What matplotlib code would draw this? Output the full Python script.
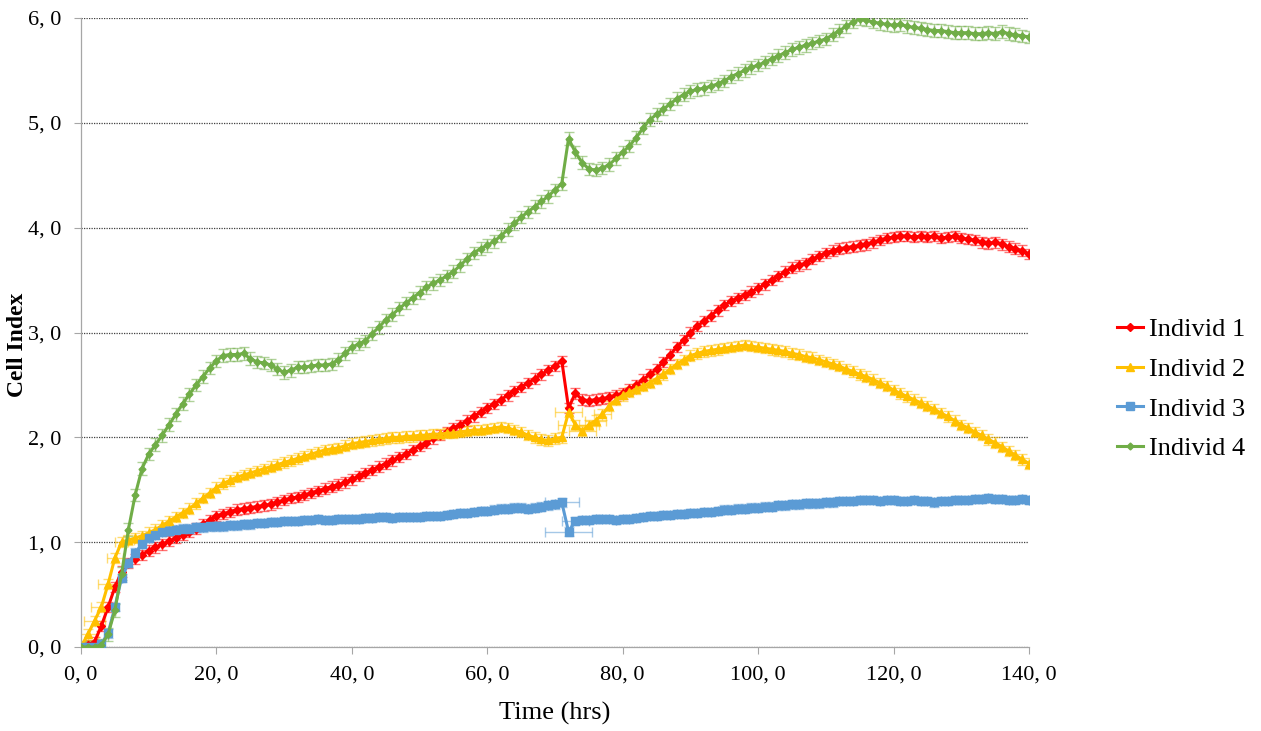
import matplotlib
matplotlib.use("Agg")
import matplotlib.pyplot as plt
import numpy as np

# ---------------- data (hourly readings, t = 0..140 h) ----------------
hours = list(range(0, 141))

individ1 = [0, 0.02, 0.05, 0.2, 0.38, 0.57, 0.72, 0.8, 0.84, 0.88, 0.92,
            0.95, 0.98, 1.01, 1.04, 1.07, 1.1, 1.13, 1.17, 1.21, 1.25,
            1.27, 1.29, 1.31, 1.32, 1.33, 1.34, 1.35, 1.36, 1.38, 1.4,
            1.42, 1.43, 1.45, 1.47, 1.49, 1.51, 1.53, 1.55, 1.57, 1.6,
            1.63, 1.66, 1.69, 1.72, 1.75, 1.78, 1.81, 1.84, 1.88, 1.92,
            1.95, 1.99, 2.02, 2.05, 2.09, 2.12, 2.16, 2.2, 2.24, 2.28,
            2.32, 2.36, 2.4, 2.44, 2.48, 2.52, 2.56, 2.6, 2.64, 2.68,
            2.73, 2.28, 2.42, 2.36, 2.35, 2.36, 2.37, 2.38, 2.4, 2.42,
            2.46, 2.5, 2.55, 2.6, 2.65, 2.72, 2.79, 2.86, 2.93, 3.0,
            3.06, 3.11, 3.16, 3.21, 3.26, 3.3, 3.33, 3.36, 3.39, 3.42,
            3.46, 3.5, 3.54, 3.58, 3.62, 3.64, 3.66, 3.7, 3.73, 3.76,
            3.78, 3.8, 3.81, 3.82, 3.83, 3.84, 3.86, 3.88, 3.9, 3.91,
            3.92, 3.92, 3.91, 3.92, 3.91, 3.92, 3.9, 3.91, 3.92, 3.9,
            3.89, 3.88, 3.86, 3.85, 3.86, 3.84, 3.82, 3.8, 3.78, 3.75]

individ2 = [0, 0.12, 0.25, 0.38, 0.6, 0.85, 1.0, 1.02, 1.04, 1.06, 1.09,
            1.12, 1.16, 1.2, 1.24, 1.28, 1.32, 1.37, 1.42, 1.47, 1.52,
            1.56, 1.59, 1.62, 1.64, 1.66, 1.68, 1.7, 1.72, 1.74, 1.76,
            1.78, 1.8, 1.82, 1.84, 1.86, 1.88, 1.89, 1.9, 1.92, 1.94,
            1.95, 1.96, 1.97, 1.98, 1.99, 2.0, 2.0, 2.01, 2.01, 2.02,
            2.02, 2.03, 2.03, 2.04, 2.04, 2.05, 2.06, 2.07, 2.07, 2.08,
            2.09, 2.1, 2.09, 2.07, 2.05, 2.02, 2.0, 1.98, 1.97, 1.99,
            2.0, 2.24, 2.12, 2.06, 2.12, 2.16, 2.22, 2.3, 2.36, 2.4,
            2.43, 2.46, 2.49, 2.52, 2.56, 2.6, 2.65, 2.7, 2.74, 2.78,
            2.8, 2.82, 2.83, 2.84, 2.85, 2.86, 2.87, 2.88, 2.87, 2.86,
            2.85, 2.84, 2.83, 2.82, 2.8, 2.79, 2.77, 2.76, 2.74, 2.72,
            2.7, 2.68, 2.65, 2.63, 2.6, 2.58, 2.55, 2.52, 2.49, 2.45,
            2.42, 2.39, 2.36, 2.33, 2.3, 2.27, 2.23, 2.2, 2.16, 2.12,
            2.09, 2.05, 2.02, 1.98, 1.95, 1.91, 1.87, 1.83, 1.79, 1.75]

individ3 = [0, 0, 0, 0.03, 0.13, 0.38, 0.66, 0.8, 0.9, 0.98, 1.04,
            1.07, 1.1, 1.11, 1.12, 1.13, 1.13, 1.14, 1.14, 1.15, 1.15,
            1.15, 1.16, 1.16, 1.17, 1.17, 1.18, 1.18, 1.19, 1.19, 1.2,
            1.2, 1.2, 1.21, 1.21, 1.22, 1.21, 1.21, 1.22, 1.22, 1.22,
            1.22, 1.23, 1.23, 1.24, 1.24, 1.23, 1.24, 1.24, 1.24, 1.24,
            1.25, 1.25, 1.25, 1.26, 1.27, 1.28, 1.28, 1.29, 1.3, 1.3,
            1.31, 1.32, 1.32, 1.33, 1.33, 1.32, 1.33, 1.34, 1.35, 1.36,
            1.38, 1.1, 1.2, 1.21, 1.21, 1.22, 1.22, 1.22, 1.21, 1.22,
            1.22, 1.23, 1.24, 1.25, 1.25, 1.26, 1.26, 1.27, 1.27, 1.28,
            1.28, 1.29, 1.29, 1.3, 1.31, 1.31, 1.32, 1.32, 1.33, 1.33,
            1.34, 1.34, 1.35, 1.35, 1.36, 1.36, 1.37, 1.37, 1.37, 1.38,
            1.38, 1.39, 1.39, 1.39, 1.4, 1.4, 1.4, 1.39, 1.4, 1.4,
            1.39, 1.39, 1.4, 1.39, 1.39, 1.38, 1.39, 1.39, 1.4, 1.4,
            1.4, 1.41, 1.41, 1.42, 1.41, 1.41, 1.4, 1.4, 1.41, 1.4]

individ4 = [0, 0, 0, 0.02, 0.12, 0.35, 0.7, 1.12, 1.45, 1.7, 1.84,
            1.93, 2.02, 2.12, 2.22, 2.32, 2.41, 2.5, 2.58, 2.66, 2.73,
            2.78, 2.79, 2.79, 2.8, 2.75, 2.72, 2.71, 2.69, 2.65, 2.62,
            2.64, 2.67, 2.67, 2.68, 2.69, 2.69, 2.7, 2.74, 2.8, 2.86,
            2.89, 2.92, 2.99, 3.05, 3.12, 3.17, 3.23, 3.28, 3.33, 3.38,
            3.43, 3.47, 3.5, 3.54, 3.58, 3.64, 3.7, 3.76, 3.8, 3.83,
            3.87, 3.92, 3.98, 4.04, 4.1, 4.15, 4.2, 4.25, 4.3, 4.36,
            4.42, 4.85, 4.72, 4.62, 4.56, 4.55, 4.57, 4.6, 4.66, 4.72,
            4.78, 4.86, 4.95, 5.03, 5.08, 5.13, 5.18, 5.23, 5.27, 5.3,
            5.32, 5.33, 5.35, 5.37, 5.4, 5.44, 5.47, 5.5, 5.53, 5.55,
            5.58, 5.61, 5.64, 5.67, 5.7, 5.72, 5.74, 5.76, 5.78, 5.8,
            5.84, 5.88, 5.92, 5.96, 5.99, 5.98, 5.96, 5.95, 5.94, 5.93,
            5.94, 5.92, 5.91, 5.9, 5.89, 5.88, 5.88, 5.87, 5.86, 5.86,
            5.86, 5.85, 5.85, 5.86, 5.85, 5.87, 5.85, 5.84, 5.83, 5.82]

# standard deviations (Cell Index) per series
sd1 = 0.05
sd2 = 0.05
sd3 = 0.04
sd4 = 0.06
# horizontal (time) deviations on a few readings: {hour: sd_hours}
xsd2 = {1: 1.5, 2: 1.5, 3: 1.5, 4: 1.5, 5: 1.2, 6: 1.0, 7: 0.8,
        72: 2.0, 73: 2.5, 74: 2.0, 75: 1.5, 76: 1.5, 77: 1.2}
xsd3 = {71: 2.5, 72: 3.5, 73: 2.0}

labels = ["Individ 1", "Individ 2", "Individ 3", "Individ 4"]
colors = ["#FF0000", "#FFC000", "#5B9BD5", "#70AD47"]
markers = ["D", "^", "s", "D"]
msizes = [4.5, 5.5, 5.5, 3.5]

x_ticks = [0, 20, 40, 60, 80, 100, 120, 140]
y_ticks = [0, 1, 2, 3, 4, 5, 6]

# ---------------- figure ----------------
fig = plt.figure(figsize=(12.61, 7.31), dpi=100)
ax = fig.add_axes([81 / 1261, 1 - 647 / 731, (1029 - 81) / 1261, (647 - 18) / 731])

series = [individ1, individ2, individ3, individ4]
sds = [sd1, sd2, sd3, sd4]
xsds = [{}, xsd2, xsd3, {}]
handles = []
for ys, sd, xs, lab, c, m, ms in zip(series, sds, xsds, labels, colors, markers, msizes):
    xe = np.array([xs.get(h, 0.0) for h in hours])
    ax.errorbar(hours, ys, yerr=sd, xerr=xe, fmt="none", ecolor=c, alpha=0.55,
                elinewidth=1.0, capsize=3.5, capthick=1.0, zorder=2)
    h, = ax.plot(hours, ys, color=c, lw=2.2, marker=m, ms=ms, mec=c, mfc=c,
                 label=lab, zorder=3)
    handles.append(h)

ax.set_xlim(0, 140)
ax.set_ylim(0, 6)
ax.set_xticks(x_ticks)
ax.set_yticks(y_ticks)
ax.set_xticklabels([f"{v}, 0" for v in x_ticks])
ax.set_yticklabels([f"{v}, 0" for v in y_ticks])

serif = "Liberation Serif"
for lab in ax.get_xticklabels() + ax.get_yticklabels():
    lab.set_fontfamily(serif)
    lab.set_fontsize(16)

ax.tick_params(axis="both", direction="out", length=5, width=0.8, color="#A6A6A6")
ax.tick_params(axis="y", pad=9)
ax.tick_params(axis="x", pad=8)

for s in ["top", "right"]:
    ax.spines[s].set_visible(False)
for s in ["left", "bottom"]:
    ax.spines[s].set_color("#A6A6A6")
    ax.spines[s].set_linewidth(0.9)

ax.yaxis.grid(True, linestyle=(0, (1, 1)), color="#404040", linewidth=0.9)
ax.set_axisbelow(True)

ax.set_xlabel("Time (hrs)", fontfamily=serif, fontsize=19)
ax.xaxis.set_label_coords(0.5, -(702 - 647) / 629)
ax.set_ylabel("Cell Index", fontfamily=serif, fontsize=17, fontweight="bold")
ax.yaxis.set_label_coords(-(81 - 28) / 948, (647 - 345) / 629)

fig.legend(handles=handles, labels=labels, loc="center left",
           bbox_to_anchor=(1117 / 1261, 1 - 389 / 731), frameon=False,
           prop={"family": serif, "size": 19}, handlelength=1.0,
           handletextpad=0.2, labelspacing=0.62, borderpad=0, borderaxespad=0)

fig.savefig("out.png", dpi=100)
